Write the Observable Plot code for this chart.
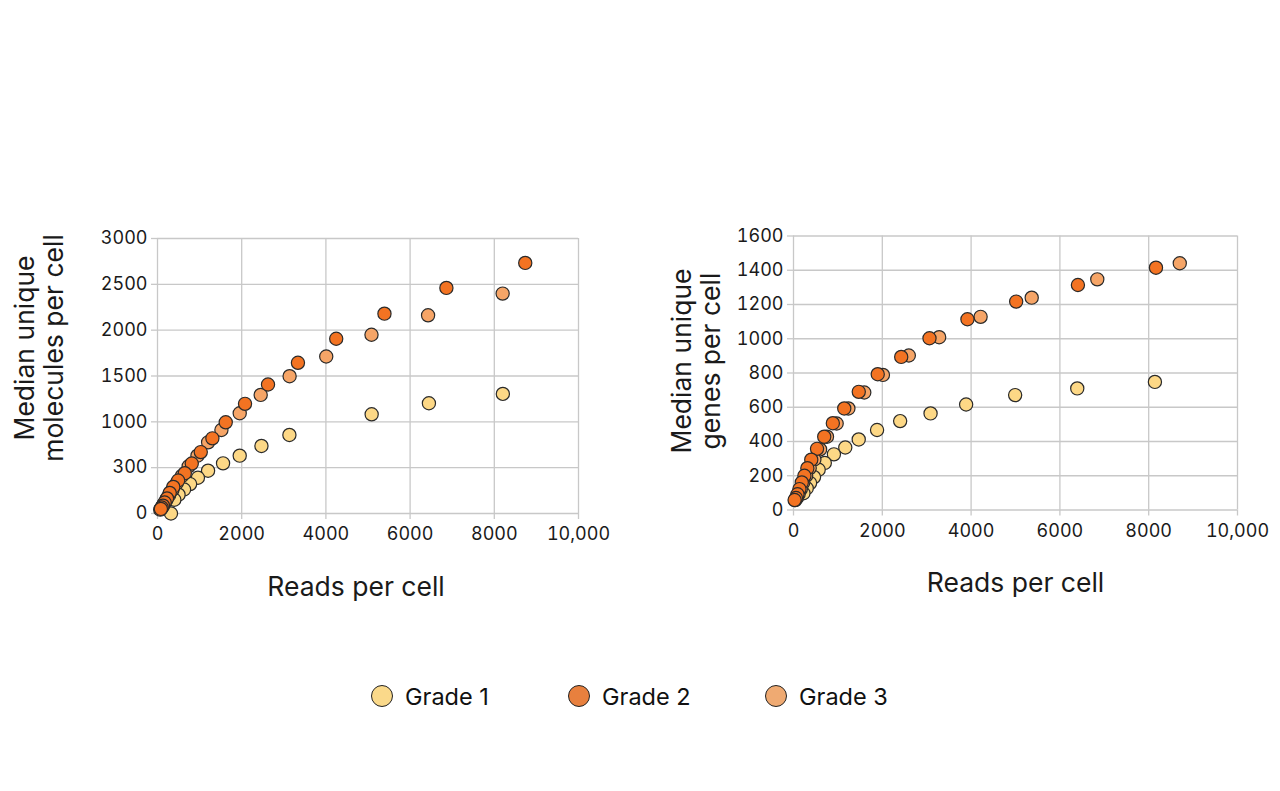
<!DOCTYPE html>
<html>
<head>
<meta charset="utf-8">
<script src="https://cdn.jsdelivr.net/npm/d3@7"></script>
<script src="https://cdn.jsdelivr.net/npm/@observablehq/plot@0.6"></script>
<style>
  html, body { margin: 0; padding: 0; background: #fff; }
  #page { position: relative; width: 1280px; height: 791px; overflow: hidden; font-family: Inter, "Noto Sans", sans-serif; }
  .chart { position: absolute; top: 0; }
  #legend { position: absolute; top: 683px; left: 0; width: 1280px; height: 28px; }
  .item { position: absolute; top: 0; display: flex; align-items: center; height: 26px; font-size: 23.5px; color: #111; }
  .sw { width: 20px; height: 20px; border-radius: 50%; border: 1.4px solid #222; margin-right: 12px; box-sizing: content-box; }
</style>
</head>
<body>
<div id="page">
  <div id="left" class="chart" style="left:0"></div>
  <div id="right" class="chart" style="left:640px"></div>
  <div id="legend"></div>
</div>
<script>
// ---------- data ----------
const grades = ["Grade 1", "Grade 2", "Grade 3"];
const pointColors = ["#FDD886", "#F37322", "#F6A567"];
const legendColors = ["#FAD98A", "#E8803E", "#EFAA72"];

// Left panel: median unique molecules per cell
const leftG1x = [8203, 6447, 5087, 3133, 2469, 1953, 1557, 1201, 960, 774, 631, 500, 400, 320];
const leftG1y = [1305, 1203, 1082, 857, 737, 631, 547, 467, 390, 321, 262, 205, 150, 0];
const leftG2x = [8735, 6862, 5391, 4245, 3336, 2625, 2079, 1621, 1304, 1028, 814, 648, 490, 375, 290, 225, 170, 130, 100, 80];
const leftG2y = [2734, 2461, 2180, 1906, 1644, 1407, 1196, 995, 820, 670, 545, 440, 360, 290, 225, 165, 120, 85, 65, 50];
const leftG3x = [8198, 6427, 5083, 4008, 3138, 2451, 1953, 1518, 1202, 949, 740, 580, 455, 355, 275, 210, 160, 120, 90, 65];
const leftG3y = [2399, 2162, 1950, 1713, 1498, 1294, 1094, 911, 776, 631, 515, 410, 330, 260, 200, 150, 110, 80, 58, 42];

// Right panel: median unique genes per cell
const rightG1x = [8140, 6391, 4992, 3888, 3087, 2402, 1882, 1469, 1166, 910, 705, 567, 462, 373, 298, 224];
const rightG1y = [748, 710, 671, 616, 564, 519, 467, 412, 365, 325, 275, 235, 192, 157, 127, 98];
const rightG2x = [8164, 6406, 5015, 3918, 3063, 2426, 1897, 1470, 1143, 886, 692, 530, 400, 312, 246, 187, 134, 90, 55, 25];
const rightG2y = [1415, 1314, 1217, 1114, 1003, 894, 793, 690, 593, 507, 428, 357, 294, 244, 200, 161, 122, 92, 70, 58];
const rightG3x = [8700, 6842, 5365, 4214, 3281, 2597, 2014, 1594, 1236, 972, 754, 599, 470, 365, 285, 220, 165, 115, 75, 40];
const rightG3y = [1441, 1347, 1240, 1128, 1009, 902, 789, 686, 593, 505, 428, 354, 295, 245, 200, 160, 122, 92, 70, 58];

// Axis ticks and labels
const xTicks = [0, 2000, 4000, 6000, 8000, 10000];
const xTickLabels = ["0", "2000", "4000", "6000", "8000", "10,000"];
const leftYTicks = [0, 500, 1000, 1500, 2000, 2500, 3000];
const leftYTickLabels = ["0", "300", "1000", "1500", "2000", "2500", "3000"];
const rightYTicks = [0, 200, 400, 600, 800, 1000, 1200, 1400, 1600];
const rightYTickLabels = ["0", "200", "400", "600", "800", "1000", "1200", "1400", "1600"];

const xLabel = "Reads per cell";
const leftYLabel = "Median unique\nmolecules per cell";
const rightYLabel = "Median unique\ngenes per cell";

// ---------- helpers ----------
const zip = (xs, ys) => xs.map((x, i) => ({x, y: ys[i]}));
const gridColor = "#c8c8c8";

function panel({series, yDomain, yTicks, yTickLabels, yLabel, margins, ylabDx, ylabDy, xlabDx, xlabDy}) {
  const order = [0, 2, 1]; // draw grade 1, grade 3, then grade 2 on top
  const dots = order.map(i => Plot.dot(series[i], {
    x: "x", y: "y", r: 6.6, fill: pointColors[i], stroke: "#2a2a2a", strokeWidth: 1.2
  }));
  return Plot.plot({
    width: 640,
    height: 640,
    marginLeft: margins[0], marginRight: margins[1], marginTop: margins[2], marginBottom: margins[3],
    style: {fontFamily: "Inter, 'Noto Sans', sans-serif", fontSize: "18px", color: "#1a1a1a", background: "transparent", overflow: "visible"},
    x: {domain: [0, 10000]},
    y: {domain: yDomain},
    marks: [
      Plot.gridX(xTicks, {stroke: gridColor, strokeOpacity: 1, strokeWidth: 1.3, y1: yDomain[0], y2: yDomain[1]}),
      Plot.gridY(yTicks, {stroke: gridColor, strokeOpacity: 1, strokeWidth: 1.3, x1: 0, x2: 10000}),
      Plot.axisX({ticks: xTicks, tickFormat: d => xTickLabels[xTicks.indexOf(d)], tickSize: 6, tickPadding: 8,
        stroke: gridColor, strokeWidth: 1.3, fill: "#1a1a1a", label: null}),
      Plot.axisY({ticks: yTicks, tickFormat: d => yTickLabels[yTicks.indexOf(d)], tickSize: 6, tickPadding: 4,
        stroke: gridColor, strokeWidth: 1.3, fill: "#1a1a1a", label: null}),
      ...dots,
      Plot.text([yLabel], {frameAnchor: "left", text: d => d, rotate: -90, dx: ylabDx, dy: ylabDy,
        fontSize: 26.5, lineHeight: 1.08, textAnchor: "middle", lineAnchor: "middle", fill: "#1a1a1a"}),
      Plot.text([xLabel], {frameAnchor: "bottom", text: d => d, dx: xlabDx, dy: xlabDy,
        fontSize: 26.5, lineAnchor: "middle", textAnchor: "middle", fill: "#1a1a1a"})
    ]
  });
}

const left = panel({
  series: [zip(leftG1x, leftG1y), zip(leftG2x, leftG2y), zip(leftG3x, leftG3y)],
  yDomain: [0, 3000], yTicks: leftYTicks, yTickLabels: leftYTickLabels, yLabel: leftYLabel,
  margins: [157, 62, 238, 127], ylabDx: -118, ylabDy: -28, xlabDx: -12, xlabDy: 74
});
document.getElementById("left").appendChild(left);

const right = panel({
  series: [zip(rightG1x, rightG1y), zip(rightG2x, rightG2y), zip(rightG3x, rightG3y)],
  yDomain: [0, 1600], yTicks: rightYTicks, yTickLabels: rightYTickLabels, yLabel: rightYLabel,
  margins: [153, 43, 235.5, 130.5], ylabDx: -97, ylabDy: -12, xlabDx: 0, xlabDy: 73.5
});
document.getElementById("right").appendChild(right);

// ---------- legend ----------
const legend = document.getElementById("legend");
const legendX = [371, 568, 765];
grades.forEach((g, i) => {
  const item = document.createElement("div");
  item.className = "item";
  item.style.left = legendX[i] + "px";
  const sw = document.createElement("span");
  sw.className = "sw";
  sw.style.background = legendColors[i];
  const t = document.createElement("span");
  t.textContent = g;
  item.appendChild(sw);
  item.appendChild(t);
  legend.appendChild(item);
});
</script>
</body>
</html>
